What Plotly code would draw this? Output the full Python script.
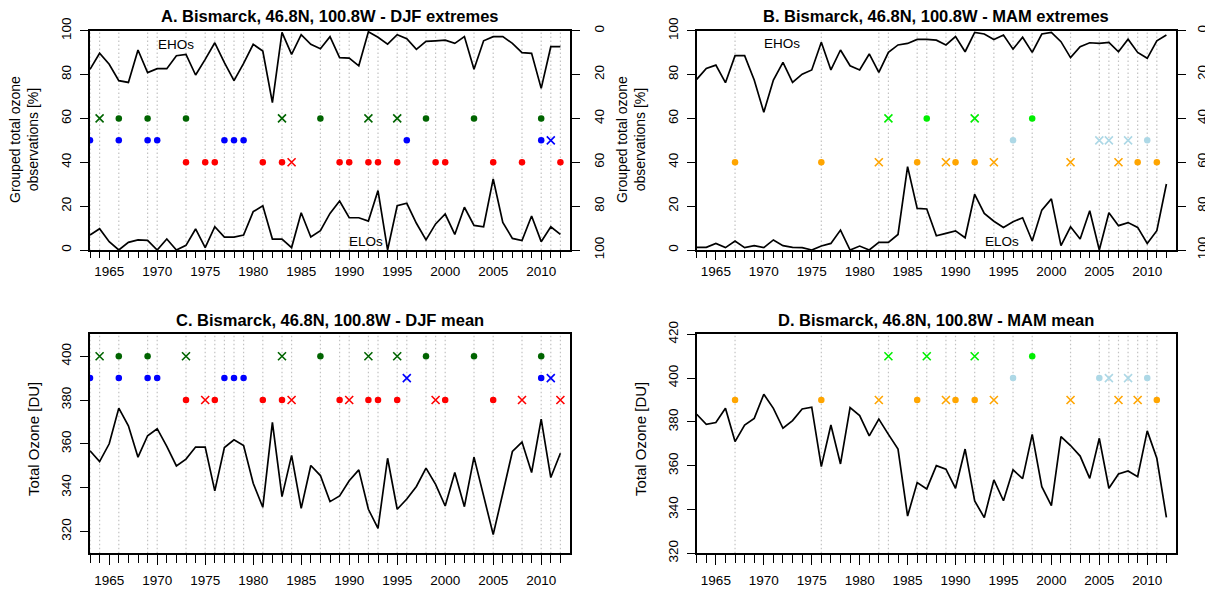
import plotly.graph_objects as go

# ---------------- data ----------------
years = list(range(1963, 2013))

# DJF: share of extreme highs (EHOs, right reversed axis) and extreme lows (ELOs, left axis) [%]
djf_eho = [17.6, 10.3, 15.3, 22.8, 23.6, 8.8, 19.1, 17.3, 17.3, 11.4,
           10.8, 20.2, 13.1, 5.5, 14.6, 22.8, 14.9, 6.2, 9.3, 32.8,
           0.8, 10.8, 1.8, 6.2, 8.2, 2.7, 12.3, 12.5, 16.0, 0.5,
           3.0, 6.1, 1.8, 3.6, 8.5, 4.9, 4.6, 4.3, 5.8, 2.7,
           17.6, 4.6, 2.7, 2.7, 5.8, 10.0, 10.3, 26.3, 7.3, 7.3]
djf_elo = [6.8, 9.7, 3.8, 0.0, 3.5, 4.6, 4.4, 0.0, 5.0, 0.0,
           2.1, 9.6, 1.1, 10.6, 5.9, 5.9, 6.8, 17.5, 20.2, 5.0,
           5.0, 1.1, 17.0, 5.9, 8.8, 16.7, 22.3, 14.7, 14.7, 13.2,
           27.1, 0.0, 20.2, 21.3, 12.2, 4.6, 11.9, 16.4, 7.1, 19.5,
           11.2, 10.6, 32.4, 12.6, 5.3, 4.3, 15.5, 3.8, 10.6, 7.1]

# MAM
mam_eho = [22.2, 17.2, 15.7, 23.7, 11.4, 11.4, 22.5, 37.2, 22.5, 14.4,
           23.6, 19.8, 17.9, 5.3, 17.9, 8.8, 16.0, 17.9, 10.6, 19.0,
           9.9, 6.5, 5.8, 4.0, 4.0, 4.3, 6.5, 2.7, 9.6, 0.8,
           1.5, 4.0, 2.0, 8.4, 3.0, 9.9, 1.5, 0.8, 5.0, 12.3,
           7.3, 5.5, 5.8, 5.3, 9.6, 3.9, 9.9, 12.6, 4.6, 2.0]
mam_elo = [1.2, 1.2, 3.0, 1.1, 4.1, 1.1, 2.0, 1.1, 4.6, 2.0,
           1.2, 1.1, 0.0, 1.8, 3.0, 9.1, 0.0, 1.8, 0.0, 3.5,
           3.5, 7.1, 38.0, 19.0, 18.7, 6.5, 7.6, 8.7, 5.6, 25.4,
           16.7, 13.1, 10.3, 12.9, 14.7, 4.1, 18.2, 23.3, 2.0, 10.6,
           5.0, 17.9, 0.0, 17.0, 11.1, 12.5, 10.3, 3.0, 8.8, 30.1]

# seasonal mean total ozone [DU]
djf_mean = [356.8, 351.9, 360.0, 376.3, 368.2, 353.9, 363.7, 366.9, 358.8, 349.9,
            353.0, 358.5, 358.5, 338.5, 358.3, 361.8, 359.2, 342.0, 331.0, 369.8,
            335.9, 354.7, 330.5, 350.1, 345.5, 333.6, 336.2, 343.1, 348.1, 330.1,
            321.4, 353.4, 330.1, 334.8, 340.5, 348.9, 341.5, 331.6, 346.9, 331.3,
            353.9, 335.9, 318.6, 337.4, 356.5, 360.8, 346.9, 371.3, 344.6, 355.7]
mam_mean = [383.5, 378.9, 379.7, 386.2, 371.0, 378.6, 381.6, 392.6, 386.2, 377.1,
            380.6, 385.9, 386.7, 359.6, 378.6, 360.8, 386.5, 382.9, 373.6, 381.3,
            374.3, 367.6, 337.0, 352.3, 349.4, 360.0, 358.4, 349.7, 367.6, 343.9,
            336.3, 353.5, 344.0, 358.1, 354.1, 374.3, 350.4, 341.8, 373.3, 369.2,
            364.4, 354.2, 372.5, 349.7, 356.2, 357.6, 355.0, 375.9, 363.4, 336.4]

# event years (dot = filled circle, cross = x) per category
A_g_dot = [1966, 1969, 1973, 1987, 1998, 2003, 2010]; A_g_x = [1964, 1983, 1992, 1995]
A_b_dot = [1963, 1966, 1969, 1970, 1977, 1978, 1979, 1996, 2010]; A_b_x = [2011]
A_r_dot = [1973, 1975, 1976, 1981, 1983, 1989, 1990, 1992, 1993, 1995, 1999, 2000, 2005, 2008, 2012]; A_r_x = [1984]

C_g_dot = [1966, 1969, 1987, 1998, 2003, 2010]; C_g_x = [1964, 1973, 1983, 1992, 1995]
C_b_dot = [1963, 1966, 1969, 1970, 1977, 1978, 1979, 2010]; C_b_x = [1996, 2011]
C_r_dot = [1973, 1976, 1981, 1983, 1989, 1992, 1993, 1995, 2000, 2005]; C_r_x = [1975, 1984, 1990, 1999, 2008, 2012]

B_g_dot = [1987, 1998]; B_g_x = [1983, 1992]
B_l_dot = [1996, 2010]; B_l_x = [2005, 2006, 2008]
B_o_dot = [1967, 1976, 1986, 1990, 1992, 2009, 2011]; B_o_x = [1982, 1989, 1994, 2002, 2007]

D_g_dot = [1998]; D_g_x = [1983, 1987, 1992]
D_l_dot = [1996, 2005, 2010]; D_l_x = [2006, 2008]
D_o_dot = [1967, 1976, 1986, 1990, 1992, 2011]; D_o_x = [1982, 1989, 1994, 2002, 2007, 2009]

# row levels for the event symbols
lev_ext = [60, 50, 40]
lev_djf = [400, 390, 380]
lev_mam = [410, 400, 390]

titles = ["A. Bismarck, 46.8N, 100.8W - DJF extremes",
          "B. Bismarck, 46.8N, 100.8W - MAM extremes",
          "C. Bismarck, 46.8N, 100.8W - DJF mean",
          "D. Bismarck, 46.8N, 100.8W - MAM mean"]
xtick_vals = [1965, 1970, 1975, 1980, 1985, 1990, 1995, 2000, 2005, 2010]
pct_ticks = [0, 20, 40, 60, 80, 100]

# ---------------- figure ----------------
W, H = 1213, 592
OFF = 8  # page body margin in the browser
FONT = "Liberation Sans, Arial, Helvetica, sans-serif"
DKGREEN, BLUE, RED = "#006400", "#0000FF", "#FF0000"
GREEN, LBLUE, ORANGE = "#00EE00", "#ADD8E6", "#FFA500"

def px(xp):
    return (xp - OFF) / W

def py(yp):
    return 1 - (yp - OFF) / H

def dx(a, b):
    return [px(a), px(b)]

def dy(top, bottom):
    return [py(bottom), py(top)]

LEFT = (90, 570)
RIGHT = (696.7, 1176)
TOP = (30.7, 250)
BOT = (334.3, 553.3)

fig = go.Figure()

def line(x, y, xa, ya):
    fig.add_trace(go.Scatter(x=x, y=y, mode="lines", xaxis=xa, yaxis=ya,
                             line=dict(color="black", width=1.7), showlegend=False,
                             hoverinfo="skip"))

def events(dots, crosses, level, color, xa, ya):
    fig.add_trace(go.Scatter(x=dots, y=[level] * len(dots), mode="markers", xaxis=xa, yaxis=ya,
                             marker=dict(symbol="circle", size=6.5, color=color),
                             showlegend=False, hoverinfo="skip"))
    fig.add_trace(go.Scatter(x=crosses, y=[level] * len(crosses), mode="markers", xaxis=xa, yaxis=ya,
                             marker=dict(symbol="x-thin-open", size=8, color=color,
                                         line=dict(color=color, width=1.6)),
                             showlegend=False, hoverinfo="skip"))

def vlines(yrs, xa):
    for yr in sorted(set(yrs)):
        fig.add_shape(type="line", xref=xa, yref=f"{xa.replace('x', 'y')} domain",
                      x0=yr, x1=yr, y0=0, y1=1, layer="below",
                      line=dict(color="#c2c2c2", width=1.2, dash="1.5px,2.5px"))

# Panel A
vlines(A_g_dot + A_g_x + A_b_dot + A_b_x + A_r_dot + A_r_x, "x")
line(years, djf_eho, "x", "y5")
line(years, djf_elo, "x", "y")
events(A_g_dot, A_g_x, lev_ext[0], DKGREEN, "x", "y")
events(A_b_dot, A_b_x, lev_ext[1], BLUE, "x", "y")
events(A_r_dot, A_r_x, lev_ext[2], RED, "x", "y")

# Panel B
vlines(B_g_dot + B_g_x + B_l_dot + B_l_x + B_o_dot + B_o_x, "x2")
line(years, mam_eho, "x2", "y6")
line(years, mam_elo, "x2", "y2")
events(B_g_dot, B_g_x, lev_ext[0], GREEN, "x2", "y2")
events(B_l_dot, B_l_x, lev_ext[1], LBLUE, "x2", "y2")
events(B_o_dot, B_o_x, lev_ext[2], ORANGE, "x2", "y2")

# Panel C
vlines(C_g_dot + C_g_x + C_b_dot + C_b_x + C_r_dot + C_r_x, "x3")
line(years, djf_mean, "x3", "y3")
events(C_g_dot, C_g_x, lev_djf[0], DKGREEN, "x3", "y3")
events(C_b_dot, C_b_x, lev_djf[1], BLUE, "x3", "y3")
events(C_r_dot, C_r_x, lev_djf[2], RED, "x3", "y3")

# Panel D
vlines(D_g_dot + D_g_x + D_l_dot + D_l_x + D_o_dot + D_o_x, "x4")
line(years, mam_mean, "x4", "y4")
events(D_g_dot, D_g_x, lev_mam[0], GREEN, "x4", "y4")
events(D_l_dot, D_l_x, lev_mam[1], LBLUE, "x4", "y4")
events(D_o_dot, D_o_x, lev_mam[2], ORANGE, "x4", "y4")

tickfont = dict(family=FONT, size=13.5, color="black")

def xax(dom, anchor, tl, standoff):
    return dict(domain=dom, anchor=anchor, range=[1963, 2013], tickmode="array",
                tickvals=xtick_vals, ticks="outside", ticklen=tl, tickwidth=1.3,
                tickcolor="black", showline=True, linecolor="black", linewidth=1.6,
                mirror=True, showgrid=False, zeroline=False, tickfont=tickfont,
                automargin=False, ticklabelstandoff=standoff,
                minor=dict(tickmode="array", tickvals=years, ticks="outside",
                           ticklen=tl - 2, tickwidth=1.3, tickcolor="black", showgrid=False))

def yax(dom, anchor, rng, tv):
    return dict(domain=dom, anchor=anchor, range=rng, tickmode="array", tickvals=tv,
                ticks="outside", ticklen=8, tickwidth=1.3, tickcolor="black",
                showline=True, linecolor="black", linewidth=1.6, mirror=True,
                showgrid=False, zeroline=False, tickangle=-90, tickfont=tickfont,
                automargin=False, ticklabelstandoff=4)

def yright(over, rng, standoff):
    return dict(overlaying=over, anchor=over.replace("y", "x"), side="right", range=rng,
                tickmode="array", tickvals=pct_ticks, ticks="outside", ticklen=8,
                tickwidth=1.3, tickcolor="black", showline=True, linecolor="black",
                linewidth=1.6, showgrid=False, zeroline=False, tickangle=-90,
                tickfont=tickfont, automargin=False, ticklabelstandoff=standoff)

fig.update_layout(
    width=W, height=H, margin=dict(l=0, r=0, t=0, b=0, autoexpand=False),
    paper_bgcolor="white", plot_bgcolor="white", showlegend=False,
    font=dict(family=FONT, color="black"),
    xaxis=xax(dx(*LEFT), "y", 8, 0), yaxis=yax(dy(*TOP), "x", [0, 100], pct_ticks),
    xaxis2=xax(dx(*RIGHT), "y2", 8, 0), yaxis2=yax(dy(*TOP), "x2", [0, 100], pct_ticks),
    xaxis3=xax(dx(*LEFT), "y3", 10, 4), yaxis3=yax(dy(*BOT), "x3", [310, 410], [320, 340, 360, 380, 400]),
    xaxis4=xax(dx(*RIGHT), "y4", 10, 4), yaxis4=yax(dy(*BOT), "x4", [320, 420], [320, 340, 360, 380, 400, 420]),
    yaxis5=yright("y", [100, 0], 8),
    yaxis6=yright("y2", [100, 0], 5),
)

ann = []
tfont = dict(family=FONT, size=16.5, color="black")
for t, (xl, xr), ytop in [(titles[0], LEFT, 16), (titles[1], RIGHT, 16),
                          (titles[2], LEFT, 320), (titles[3], RIGHT, 320)]:
    ann.append(dict(text=f"<b>{t}</b>", x=px((xl + xr) / 2), y=py(ytop),
                    xref="paper", yref="paper", showarrow=False, font=tfont,
                    xanchor="center", yanchor="middle"))
for txt, xc, yc, fs in [("Grouped total ozone<br>observations [%]", 24, 140, 14),
                        ("Grouped total ozone<br>observations [%]", 631, 140, 14),
                        ("Total Ozone [DU]", 33, 439, 15),
                        ("Total Ozone [DU]", 640, 439, 15)]:
    ann.append(dict(text=txt, x=px(xc), y=py(yc), xref="paper", yref="paper",
                    showarrow=False, font=dict(family=FONT, size=fs, color="black"),
                    textangle=-90, xanchor="center", yanchor="middle"))
for txt, xa, ya, xv, yv in [("EHOs", "x", "y", 1972, 93.5), ("ELOs", "x", "y", 1991.8, 3.8),
                            ("EHOs", "x2", "y2", 1971.9, 94), ("ELOs", "x2", "y2", 1994.8, 4)]:
    ann.append(dict(text=txt, x=xv, y=yv, xref=xa, yref=ya, showarrow=False,
                    font=dict(family=FONT, size=13.5, color="black")))
fig.update_layout(annotations=ann)

fig.write_html("out.html")
